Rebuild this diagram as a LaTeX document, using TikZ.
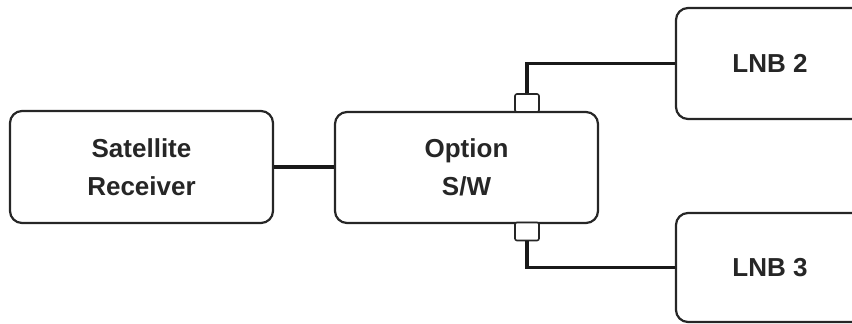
\documentclass[tikz,border=0pt]{standalone}
\usepackage{fontspec}
\setmainfont{Liberation Sans}
\begin{document}
\begin{tikzpicture}[x=1pt,y=-1pt,
  box/.style={draw=black!85,line width=2.2pt,rounded corners=12pt,inner sep=0pt,
    align=center,font=\fontsize{26}{38}\selectfont\bfseries,text=black!85},
  port/.style={draw=black!85,line width=1.6pt,rounded corners=2pt,fill=white,
    minimum width=24pt,minimum height=18pt,inner sep=0pt},
  wire/.style={line width=3.4pt,draw=black!90}]
\useasboundingbox (0,0) rectangle (852,324);
\node[box,minimum width=263pt,minimum height=112pt] (rx) at (141.5,167) {Satellite\\Receiver};
\node[box,minimum width=263pt,minimum height=111pt] (sw) at (466.5,167.5) {Option\\S/W};
\node[box,minimum width=188pt,minimum height=111pt] (l2) at (770,63.5) {LNB 2};
\node[box,minimum width=188pt,minimum height=109pt] (l3) at (770,267.5) {LNB 3};
\node[port] (p2) at (527,103) {};
\node[port] (p3) at (527,231.5) {};
\draw[wire] (rx.east) -- (rx.east -| sw.west);
\draw[wire] (p2.north) |- (l2.west);
\draw[wire] (p3.south) |- (l3.west);
\end{tikzpicture}
\end{document}
